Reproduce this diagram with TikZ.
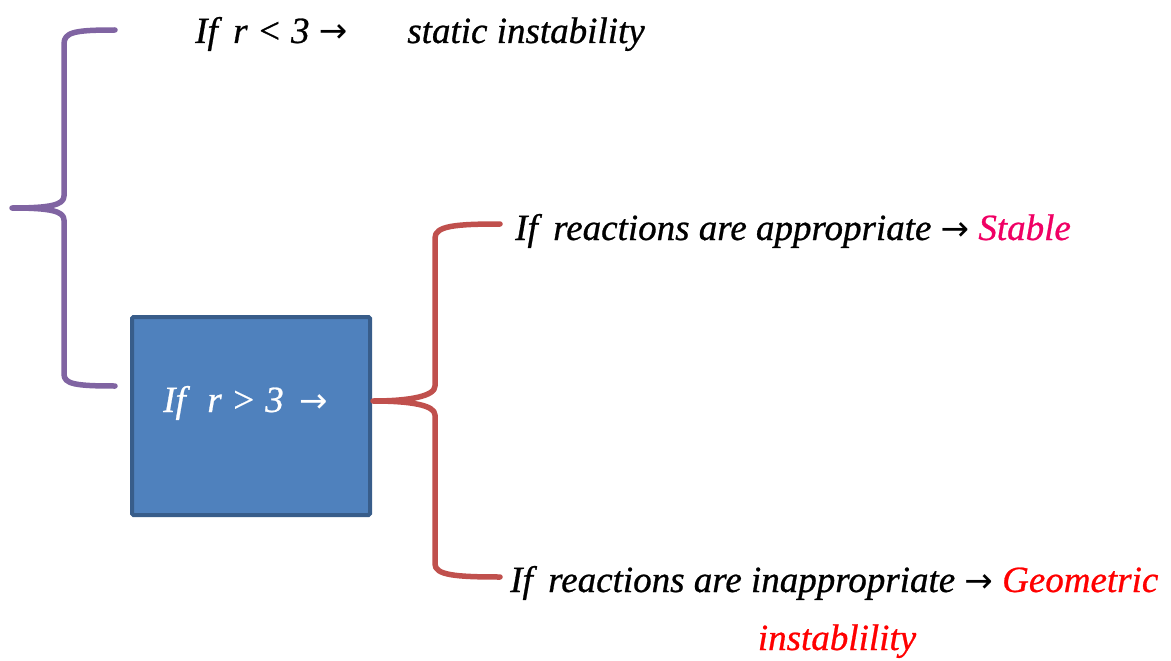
\documentclass[tikz,border=0pt]{standalone}
\usepackage{fontspec}
\setmainfont{Liberation Serif}
\newfontfamily\lblfont[FakeBold=0.7]{Liberation Serif}
\newfontfamily\arrfont{DejaVu Sans}
\newcommand{\arr}{{\fontsize{34}{36}\arrfont →}}
\definecolor{bracepurple}{RGB}{128,100,162}
\definecolor{bracered}{RGB}{192,80,77}
\definecolor{boxfill}{RGB}{79,129,189}
\definecolor{boxdraw}{RGB}{56,93,138}
\definecolor{stablepink}{RGB}{240,0,100}
\definecolor{geored}{RGB}{255,0,0}
\tikzset{
  brace/.style={line width=5.5pt, line cap=round, line join=round},
  lbl/.style={inner sep=0pt, font=\fontsize{37}{44}\lblfont\itshape},
  bluebox/.style={fill=boxfill, draw=boxdraw, line width=4pt, rounded corners=1.5pt}
}
\begin{document}
\begin{tikzpicture}[x=1pt,y=-1pt]
\useasboundingbox (0,0) rectangle (1171,661);
% purple brace
\coordinate (ptop) at (115,30);
\coordinate (ptip) at (12,208);
\coordinate (pbot) at (115,386);
\draw[brace, bracepurple] (ptop) .. controls (75,30) and (64,32) .. (64,44) -- (64,196)
  .. controls (64,205) and (50,208) .. (ptip)
  .. controls (50,208) and (64,211) .. (64,220) -- (64,374)
  .. controls (64,384) and (75,386) .. (pbot);
% blue box
\node[bluebox, minimum width=238pt, minimum height=198pt, anchor=north west] (box) at (130,315) {};
\node[lbl, text=white, anchor=base west] (boxtxt) at (163,412) {If\,\, r > 3\, \arr};
% red brace
\coordinate (rtop) at (500,224);
\coordinate (rtip) at (373,401);
\coordinate (rbot) at (500,577);
\draw[brace, bracered] (rtop) .. controls (455,224) and (435,226) .. (435,238) -- (435,386)
  .. controls (435,396) and (410,401) .. (rtip)
  .. controls (410,401) and (435,405) .. (435,415) -- (435,564)
  .. controls (435,575) and (455,577) .. (rbot);
% texts
\node[lbl, anchor=base west] (t1) at (195,43) {If\, r < 3 \arr\hspace{60pt}static instability};
\node[lbl, anchor=base west] (t2) at (515,240) {If\, reactions are appropriate \arr\ \textcolor{stablepink}{Stable}};
\node[lbl, anchor=base west] (t3) at (510,592) {If\, reactions are inappropriate \arr\ \textcolor{geored}{Geometric}};
\node[lbl, anchor=base, text=geored] (t4) at (837,650) {instablility};
\end{tikzpicture}
\end{document}
